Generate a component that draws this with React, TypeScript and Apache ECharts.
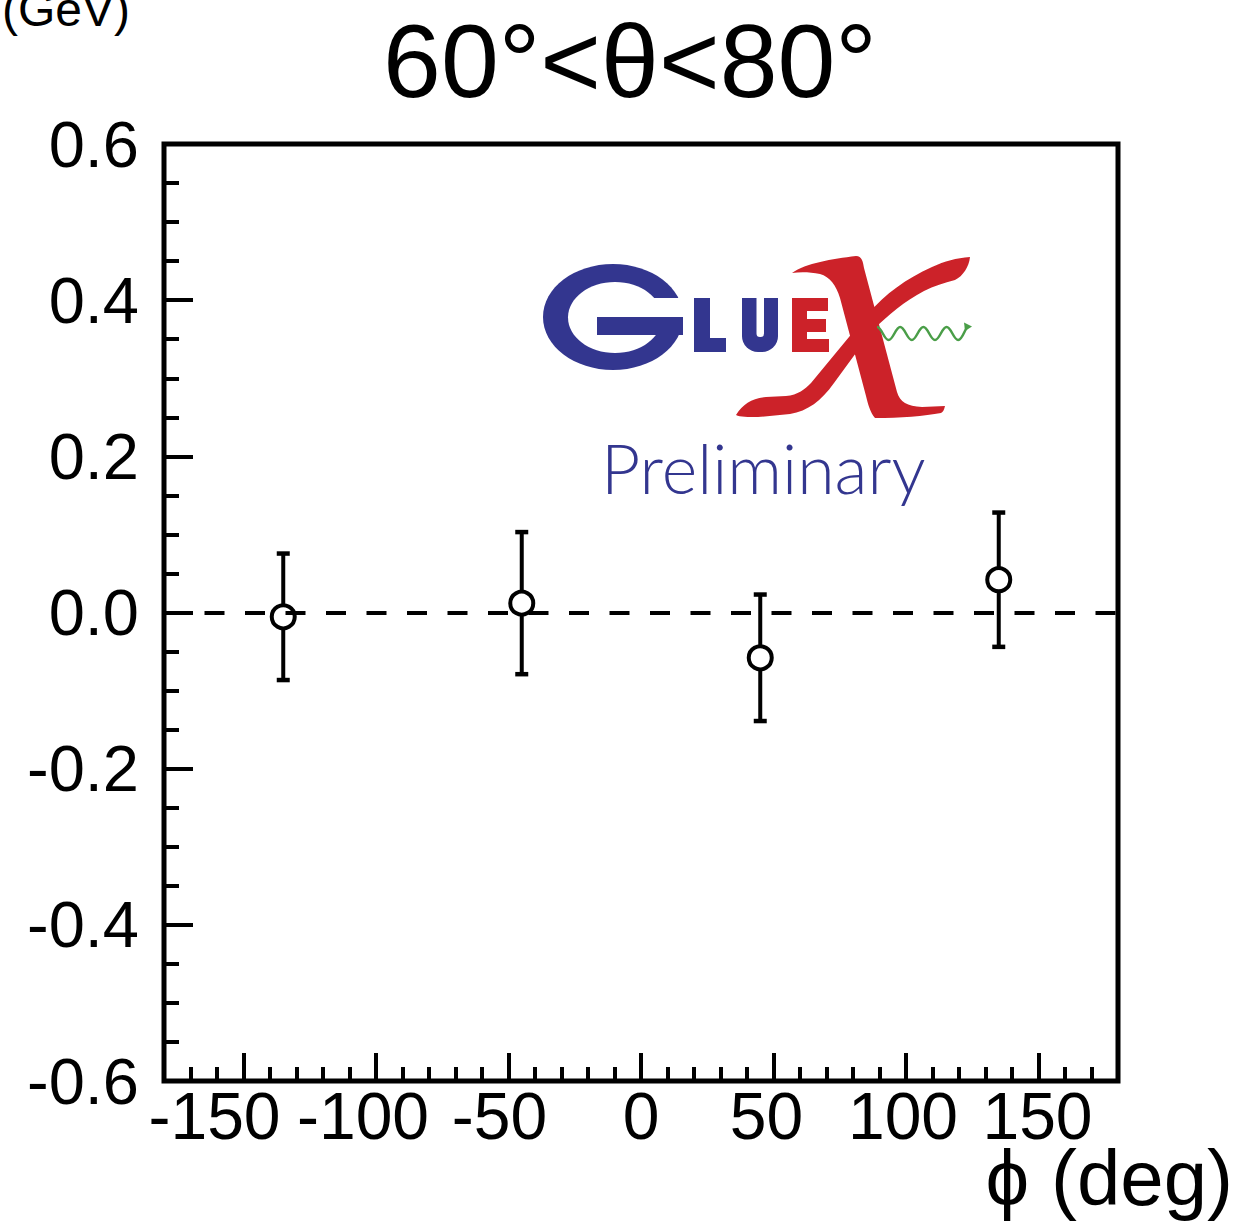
import React, { useEffect, useRef } from "react";
import * as echarts from "echarts";

// ---- data ----
const phiValues = [-135, -45, 45, 135];
const asymValues = [-0.0055, 0.012, -0.058, 0.042];
const asymErrors = [0.081, 0.091, 0.081, 0.086];
const xTickLabels = [-150, -100, -50, 0, 50, 100, 150];
const yTickLabels = [-0.6, -0.4, -0.2, 0, 0.2, 0.4, 0.6];
const titleText = "60°<θ<80°";
const xTitle = "ϕ (deg)";
const yTitle = "(GeV)";
const logoSubText = "Preliminary";

const FONT = "'Liberation Sans', Arial, Helvetica, sans-serif";
const BLUE = "#33368f";
const RED = "#cc2229";
const GREEN = "#4a9e48";

const X_PATH =
  "M792 273 C806 263 832 259 856 256 C862 256 863 262 864 268 L897 392 C900 402 907 406 922 407 L945 406 C944 410 943 412 941 413 C925 416 900 418 875 418 C870 412 868 404 866 396 L840 298 C836 285 830 277 820 274 C810 272 800 272 792 273 Z " +
  "M736 415 C743 404 752 398 766 397 L786 396 C798 395 805 389 811 383 L868 314 C886 293 906 279 932 267 C945 261 956 258 970 257 C969 267 963 276 955 280 C944 283 934 286 924 291 C905 301 888 315 872 331 L834 383 C821 401 808 411 790 414 L758 417 C748 417 740 417 736 415 Z";

const WAVE_PATH =
  "M877 327 C881.6 327 884 340 888.6 340 C893.2 340 895.6 327 900.2 327 C904.8 327 907.2 340 911.8 340 C916.4 340 918.8 327 923.4 327 C928 327 930.4 340 935 340 C939.6 340 942 327 946.6 327 C951.2 327 953.6 340 958.2 340 C962.8 340 965.2 327 968 327";

echarts.graphic.registerShape("gluexX", echarts.graphic.extendPath(X_PATH, {}));
echarts.graphic.registerShape("gluexWave", echarts.graphic.extendPath(WAVE_PATH, {}));

// label nudges (ROOT shifts negative labels left): right padding moves the centred text left
const labelRich: any = {};
const labelPad: Record<string, number> = { "-150": 58, "-100": 26, "-50": 18, "0": 0, "50": 14, "100": 6, "150": 2 };
Object.keys(labelPad).forEach((k, i) => {
  labelRich["l" + i] = { fontSize: 66, fontFamily: FONT, color: "#000", padding: [0, labelPad[k], 0, 0] };
});

const App: React.FC = () => {
  const ref = useRef<HTMLDivElement>(null);

  useEffect(() => {
    if (!ref.current) return;
    const chart = echarts.init(ref.current, undefined, { renderer: "svg" });

    const errData = phiValues.map((p, i) => [p, asymValues[i], asymErrors[i]]);
    const ptData = phiValues.map((p, i) => [p, asymValues[i]]);

    const tickStyle = { color: "#000", width: 4 };
    const padKeys = Object.keys(labelPad);

    const option: any = {
      animation: false,
      backgroundColor: "#fff",
      grid: {
        left: 164,
        top: 144,
        right: 121,
        bottom: 140,
        show: true,
        borderColor: "#000",
        borderWidth: 5,
        backgroundColor: "transparent",
      },
      xAxis: [
        {
          type: "value",
          min: -180,
          max: 180,
          interval: 10,
          position: "bottom",
          axisLine: { show: false, onZero: false },
          splitLine: { show: false },
          axisTick: { show: true, inside: true, length: 14, lineStyle: tickStyle },
          axisLabel: {
            show: true,
            customValues: xTickLabels,
            hideOverlap: false,
            formatter: (v: number) => {
              const r = Math.round(v);
              if (Math.abs(r % 50) !== 0) return "";
              const idx = padKeys.indexOf(String(r));
              return idx >= 0 ? "{l" + idx + "|" + r + "}" : String(r);
            },
            rich: labelRich,
            fontSize: 66,
            fontFamily: FONT,
            color: "#000",
            margin: 2,
          },
        },
        {
          type: "value",
          min: -180,
          max: 180,
          position: "bottom",
          axisLine: { show: false, onZero: false },
          splitLine: { show: false },
          axisTick: {
            show: true,
            inside: true,
            length: 28,
            customValues: xTickLabels,
            lineStyle: tickStyle,
          },
          axisLabel: { show: false },
        },
      ],
      yAxis: [
        {
          type: "value",
          min: -0.6,
          max: 0.6,
          interval: 0.2,
          axisLine: { show: false, onZero: false },
          splitLine: { show: false },
          axisTick: { show: true, inside: true, length: 29, lineStyle: tickStyle },
          minorTick: { show: true, splitNumber: 4, length: 15, lineStyle: tickStyle },
          minorSplitLine: { show: false },
          axisLabel: {
            customValues: yTickLabels,
            hideOverlap: false,
            formatter: (v: number) => (Math.abs(v) < 1e-9 ? "0.0" : v.toFixed(1)),
            fontSize: 65,
            fontFamily: FONT,
            color: "#000",
            margin: 25,
          },
        },
      ],
      series: [
        {
          type: "custom",
          name: "errors",
          xAxisIndex: 0,
          yAxisIndex: 0,
          z: 2,
          silent: true,
          data: errData,
          renderItem: (params: any, api: any) => {
            const x = api.value(0);
            const y = api.value(1);
            const e = api.value(2);
            const top = api.coord([x, y + e]);
            const bot = api.coord([x, y - e]);
            const hw = 6.5;
            return {
              type: "group",
              children: [
                { type: "line", shape: { x1: top[0], y1: top[1], x2: bot[0], y2: bot[1] }, style: { stroke: "#000", lineWidth: 4 } },
                { type: "line", shape: { x1: top[0] - hw, y1: top[1], x2: top[0] + hw, y2: top[1] }, style: { stroke: "#000", lineWidth: 4.5 } },
                { type: "line", shape: { x1: bot[0] - hw, y1: bot[1], x2: bot[0] + hw, y2: bot[1] }, style: { stroke: "#000", lineWidth: 4.5 } },
              ],
            };
          },
        },
        {
          type: "scatter",
          name: "points",
          xAxisIndex: 0,
          yAxisIndex: 0,
          z: 3,
          symbol: "circle",
          symbolSize: 23,
          itemStyle: { color: "#fff", borderColor: "#000", borderWidth: 4, opacity: 1 },
          data: ptData,
        },
        {
          type: "scatter",
          name: "zero",
          xAxisIndex: 0,
          yAxisIndex: 0,
          z: 4,
          data: [],
          markLine: {
            silent: true,
            symbol: ["none", "none"],
            label: { show: false },
            lineStyle: { color: "#000", width: 4, type: [20, 20.5] },
            emphasis: { disabled: true },
            data: [{ yAxis: 0 }],
          },
        },
      ],
      graphic: [
        {
          type: "text",
          x: 630,
          y: 61,
          style: { text: titleText, fontSize: 104, fontFamily: FONT, fill: "#000", align: "center", verticalAlign: "middle" },
        },
        {
          type: "text",
          x: 1233,
          y: 1178,
          style: { text: xTitle, fontSize: 78, lineHeight: 62, fontFamily: "'Liberation Sans', 'DejaVu Sans', sans-serif", fill: "#000", align: "right", verticalAlign: "middle" },
        },
        {
          type: "text",
          x: 2,
          y: 9,
          style: { text: yTitle, fontSize: 48, fontFamily: FONT, fill: "#000", align: "left", verticalAlign: "middle" },
        },
        // GlueX logo: G
        { type: "ellipse", shape: { cx: 613, cy: 317, rx: 70, ry: 53 }, style: { fill: BLUE } },
        { type: "ellipse", shape: { cx: 615, cy: 317.5, rx: 47, ry: 35.5 }, style: { fill: "#fff" } },
        { type: "rect", shape: { x: 630, y: 298, width: 60, height: 19 }, style: { fill: "#fff" } },
        { type: "rect", shape: { x: 597, y: 317, width: 86, height: 18 }, style: { fill: BLUE } },
        // L
        { type: "rect", shape: { x: 694, y: 298, width: 16, height: 54 }, style: { fill: BLUE } },
        { type: "rect", shape: { x: 694, y: 338, width: 32, height: 14 }, style: { fill: BLUE } },
        // U
        { type: "rect", shape: { x: 742, y: 298, width: 36, height: 54, r: [0, 0, 16, 16] }, style: { fill: BLUE } },
        { type: "rect", shape: { x: 756.5, y: 298, width: 7.5, height: 39, r: [0, 0, 3.5, 3.5] }, style: { fill: "#fff" } },
        // E
        { type: "rect", shape: { x: 792, y: 298, width: 15, height: 54 }, style: { fill: RED } },
        { type: "rect", shape: { x: 792, y: 298, width: 36, height: 13 }, style: { fill: RED } },
        { type: "rect", shape: { x: 792, y: 319, width: 34, height: 13 }, style: { fill: RED } },
        { type: "rect", shape: { x: 792, y: 339, width: 37, height: 13 }, style: { fill: RED } },
        // X
        { type: "gluexX", x: 0, y: 0, style: { fill: RED } },
        // wave
        { type: "gluexWave", x: 0, y: 0, style: { fill: "none", stroke: GREEN, lineWidth: 2.5 } },
        { type: "polygon", shape: { points: [[964, 322.5], [972, 326.5], [965, 331]] }, style: { fill: GREEN } },
        {
          type: "text",
          x: 601,
          y: 467.5,
          style: { text: logoSubText, fontSize: 68, fontWeight: 300, fontFamily: "Lato, 'Open Sans', sans-serif", fill: BLUE, align: "left", verticalAlign: "middle" },
        },
      ],
    };

    chart.setOption(option);
    return () => chart.dispose();
  }, []);

  return (
    <div
      ref={ref}
      style={{ position: "fixed", left: 0, top: 0, width: 1239, height: 1221, background: "#fff" }}
    />
  );
};

export default App;
